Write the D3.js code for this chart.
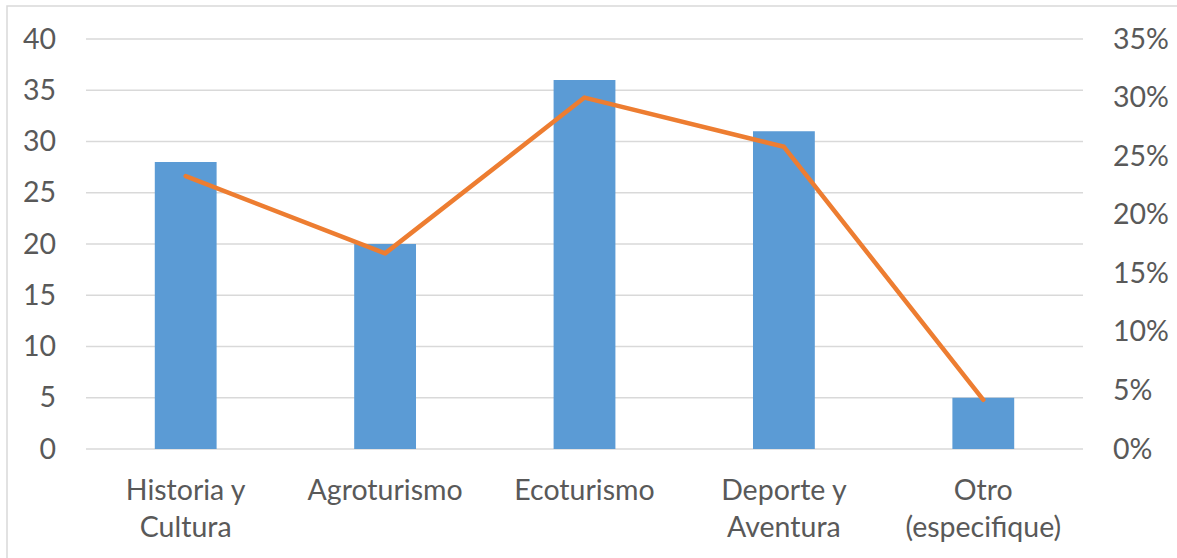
<!DOCTYPE html>
<html>
<head>
<meta charset="utf-8">
<script src="https://cdn.jsdelivr.net/npm/d3@7"></script>
<style>
  body { margin: 0; background: #fff; }
  text { font-family: Lato, "Open Sans", sans-serif; fill: #595959; }
</style>
</head>
<body>
<svg id="chart" width="1177" height="558"></svg>
<script>
const categories = [["Historia y", "Cultura"], ["Agroturismo"], ["Ecoturismo"], ["Deporte y", "Aventura"], ["Otro", "(especifique)"]];
const counts = [28, 20, 36, 31, 5];
const shares = [0.233, 0.167, 0.30, 0.258, 0.042];
const leftTicks = [0, 5, 10, 15, 20, 25, 30, 35, 40];
const rightTicks = [0, 0.05, 0.10, 0.15, 0.20, 0.25, 0.30, 0.35];

const svg = d3.select("#chart");
const plot = { left: 86, right: 1083, top: 39, bottom: 449 };
const fontSize = 28.5;

// outer frame
svg.append("rect")
  .attr("x", 7).attr("y", 6)
  .attr("width", 1200).attr("height", 600)
  .attr("fill", "none")
  .attr("stroke", "#d9d9d9")
  .attr("stroke-width", 1.5);

const x = d3.scaleBand()
  .domain(d3.range(categories.length))
  .range([plot.left, plot.right])
  .paddingInner(0.69)
  .paddingOuter(0.345);

const yL = d3.scaleLinear().domain([0, 40]).range([plot.bottom, plot.top]);
const yR = d3.scaleLinear().domain([0, 0.35]).range([plot.bottom, plot.top]);

// gridlines
svg.append("g")
  .selectAll("line")
  .data(leftTicks)
  .join("line")
  .attr("x1", plot.left).attr("x2", plot.right)
  .attr("y1", d => yL(d)).attr("y2", d => yL(d))
  .attr("stroke", "#d9d9d9")
  .attr("stroke-width", 1.5);

// left axis
const axL = svg.append("g")
  .attr("transform", `translate(${plot.left},0)`)
  .call(d3.axisLeft(yL).tickValues(leftTicks).tickSize(0).tickPadding(30));
axL.select(".domain").remove();
axL.selectAll("text").attr("font-size", fontSize).style("font-family", null).attr("fill", null);

// right axis
const axR = svg.append("g")
  .attr("transform", `translate(${plot.right},0)`)
  .call(d3.axisRight(yR).tickValues(rightTicks).tickSize(0).tickPadding(30).tickFormat(d3.format(".0%")));
axR.select(".domain").remove();
axR.selectAll("text").attr("font-size", fontSize).style("font-family", null).attr("fill", null);

// bars
svg.append("g")
  .selectAll("rect")
  .data(counts)
  .join("rect")
  .attr("x", (d, i) => x(i))
  .attr("y", d => yL(d))
  .attr("width", x.bandwidth())
  .attr("height", d => yL(0) - yL(d))
  .attr("fill", "#5b9bd5");

// line
const line = d3.line()
  .x((d, i) => x(i) + x.bandwidth() / 2)
  .y(d => yR(d));

svg.append("path")
  .datum(shares)
  .attr("d", line)
  .attr("fill", "none")
  .attr("stroke", "#ed7d31")
  .attr("stroke-width", 4.5)
  .attr("stroke-linejoin", "round")
  .attr("stroke-linecap", "round");

// category labels
const cat = svg.append("g")
  .selectAll("text")
  .data(categories)
  .join("text")
  .attr("x", (d, i) => x(i) + x.bandwidth() / 2)
  .attr("y", 500)
  .attr("text-anchor", "middle")
  .attr("font-size", fontSize);

cat.selectAll("tspan")
  .data(d => d)
  .join("tspan")
  .attr("x", function () { return d3.select(this.parentNode).attr("x"); })
  .attr("dy", (d, i) => i === 0 ? 0 : 37)
  .text(d => d);
</script>
</body>
</html>
